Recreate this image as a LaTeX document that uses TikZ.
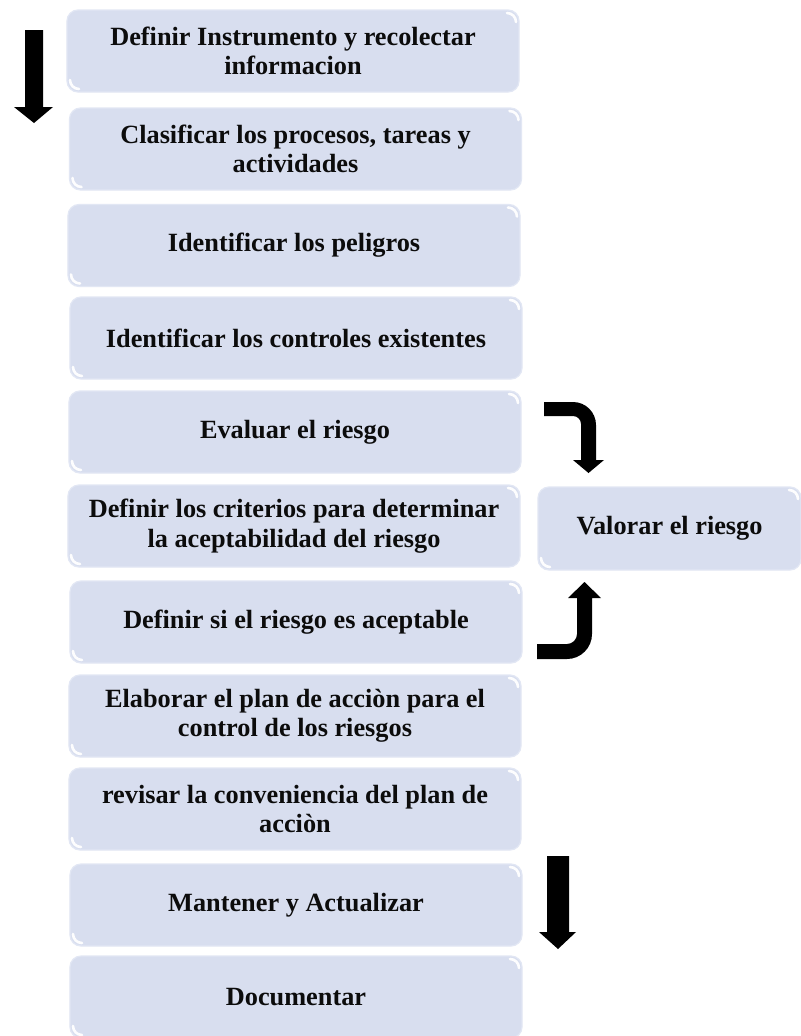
\documentclass[tikz,border=0pt]{standalone}
\usepackage{fontspec}
\setmainfont{Liberation Serif}
\definecolor{boxfill}{RGB}{216,222,239}
\definecolor{boxedge}{RGB}{226,231,244}
\definecolor{txt}{RGB}{12,12,12}
\tikzset{
  gloss/.style={
    path picture={
      \draw[white, line width=2.6bp, line cap=round, opacity=.95]
        ([xshift=-12bp,yshift=-3bp]path picture bounding box.north east)
        .. controls ([xshift=-7bp,yshift=-3bp]path picture bounding box.north east)
        and ([xshift=-3bp,yshift=-7bp]path picture bounding box.north east)
        .. ([xshift=-3bp,yshift=-12bp]path picture bounding box.north east);
      \draw[white, line width=2.6bp, line cap=round, opacity=.95]
        ([xshift=3bp,yshift=12bp]path picture bounding box.south west)
        .. controls ([xshift=3bp,yshift=7bp]path picture bounding box.south west)
        and ([xshift=7bp,yshift=3bp]path picture bounding box.south west)
        .. ([xshift=12bp,yshift=3bp]path picture bounding box.south west);
    }},
  stepbox/.style={rectangle, rounded corners=11bp, fill=boxfill, draw=boxedge,
    line width=1.2bp, minimum width=452bp, minimum height=82bp, inner sep=0pt,
    align=center, text=txt, font=\bfseries\fontsize{26.4}{29.5}\selectfont, gloss},
  blockarrow/.style={fill=black, draw=none}
}
\begin{document}
\begin{tikzpicture}[x=1bp,y=-1bp]
\clip (0,0) rectangle (801,1036);
\fill[white] (0,0) rectangle (801,1036);

\node[stepbox] (b1)  at (293,51)    {Definir Instrumento y recolectar\\informacion};
\node[stepbox] (b2)  at (295.5,149) {Clasificar los procesos, tareas y\\actividades};
\node[stepbox] (b3)  at (294,245.5) {Identificar los peligros};
\node[stepbox] (b4)  at (296,338)   {Identificar los controles existentes};
\node[stepbox] (b5)  at (295,432)   {Evaluar el riesgo};
\node[stepbox] (b6)  at (294,526)   {Definir los criterios para determinar\\la aceptabilidad del riesgo};
\node[stepbox] (b7)  at (296,622)   {Definir si el riesgo es aceptable};
\node[stepbox] (b8)  at (295,716)   {Elaborar el plan de acciòn para el\\control de los riesgos};
\node[stepbox] (b9)  at (295,809)   {revisar la conveniencia del plan de\\acciòn};
\node[stepbox] (b10) at (296,905)   {Mantener y Actualizar};
\node[stepbox] (b11) at (296,997)   {Documentar};
\node[stepbox, minimum width=263bp, minimum height=83bp] (val) at (669.5,528.5) {Valorar el riesgo};

% left straight arrow
\fill[blockarrow] (25,30) -- (43,30) -- (43,107) -- (53,107) -- (34,123) -- (14,107) -- (25,107) -- cycle;
% bottom-right straight arrow
\fill[blockarrow] (547,856) -- (569,856) -- (569,932) -- (576,932) -- (558,949) -- (539,932) -- (547,932) -- cycle;
% bent arrow: Evaluar -> Valorar
\fill[blockarrow] (544,402) -- (573,402)
  .. controls (585.7,402) and (596,412.3) .. (596,425)
  -- (596,460) -- (604,460) -- (588.5,473) -- (573,460) -- (581,460) -- (581,424)
  .. controls (581,419.6) and (577.4,416) .. (573,416)
  -- (544,416) -- cycle;
% bent arrow: Definir si -> Valorar
\fill[blockarrow] (537,644) -- (567,644)
  .. controls (572.5,644) and (577,639.5) .. (577,634)
  -- (577,598) -- (568,598) -- (584.5,582) -- (601,598) -- (592,598) -- (592,634)
  .. controls (592,647.8) and (580.8,659) .. (567,659)
  -- (537,659) -- cycle;
\end{tikzpicture}
\end{document}
